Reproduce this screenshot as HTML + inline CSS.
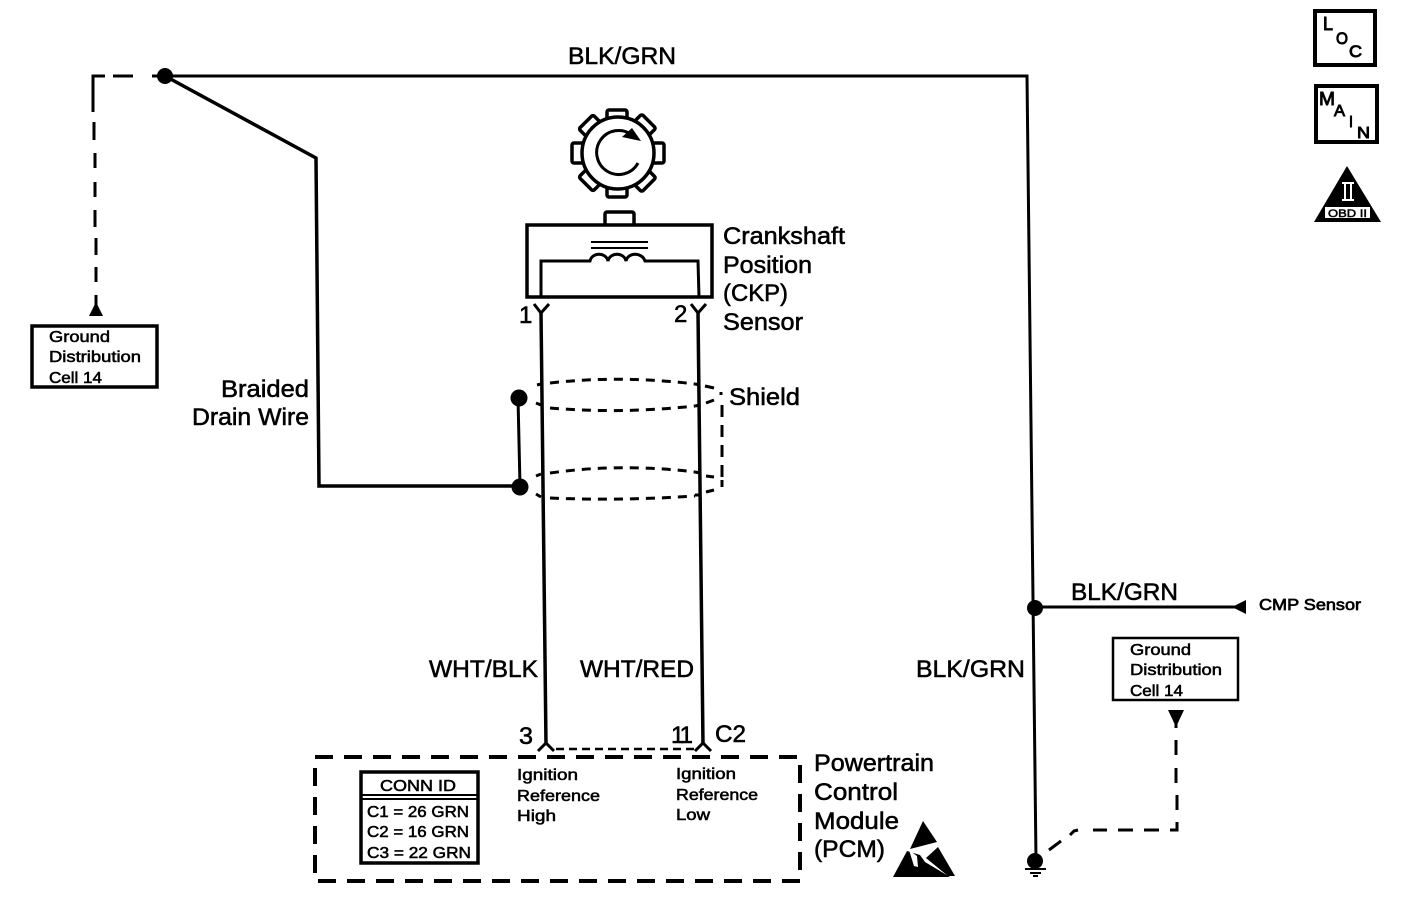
<!DOCTYPE html>
<html>
<head>
<meta charset="utf-8">
<style>
html,body{margin:0;padding:0;background:#fff;}
svg{display:block;}
text{font-family:"Liberation Sans",Arial,sans-serif;fill:#000;stroke:#000;stroke-width:.55;}
.l{font-size:24px;}
.s{font-size:16px;}
.w{fill:none;stroke:#000;stroke-width:3;}
.t{fill:none;stroke:#000;stroke-width:3;}
.box{fill:#fff;stroke:#000;stroke-width:3.5;}
</style>
</head>
<body>
<svg width="1408" height="906" viewBox="0 0 1408 906" xmlns="http://www.w3.org/2000/svg">
<rect width="1408" height="906" fill="#fff"/>

<!-- main wires -->
<path class="w" d="M165,76 H1027 L1036,860"/>
<path class="w" style="stroke-width:3.5" d="M165,76 L316,158 L319,486 H520"/>
<path class="w" d="M518,398 L520,486"/>
<path class="w" style="stroke-width:3.5" d="M541,312 L546,745"/>
<path class="w" style="stroke-width:3.5" d="M698,312 L703,745"/>
<path class="w" d="M1035,607 H1240"/>
<circle cx="165" cy="76" r="8"/>
<circle cx="519" cy="398" r="8.5"/>
<circle cx="520" cy="487" r="8.5"/>
<circle cx="1035" cy="608" r="8"/>
<circle cx="1035" cy="861" r="8"/>
<path d="M1246,600 V614 L1232,607 Z"/>
<!-- ground -->
<path class="w" style="stroke-width:2" d="M1025,869 H1046 M1030,873 H1041 M1033,876 H1038"/>

<!-- dashed connections -->
<path class="t" d="M93,112 V76 H105 M113,76 H133 M152,76 H165"/>
<path class="t" d="M94,122 L94,140 M95,153 L95,168 M95,182 L95,197 M95,210 L95,227 M96,238 L96,255 M96,267 L96,282 M96,295 L96,307"/>
<path d="M96,302 L103,316 H89 Z"/>
<path class="t" d="M1049,850 L1061,841 M1070,835 L1074,831 L1078,830 M1093,830 H1107 M1118,830 H1133 M1144,830 H1159 M1170,830 H1177 V822"/>
<path class="t" d="M1176,718 V728 M1176,740 V755 M1176,768 V783 M1177,795 V810"/>
<path d="M1168,710 H1184 L1176,727 Z"/>

<!-- Ground boxes -->
<rect class="box" x="32" y="326" width="125" height="61"/>
<text class="s" x="49" y="342" textLength="61" lengthAdjust="spacingAndGlyphs">Ground</text>
<text class="s" x="49" y="362" textLength="92" lengthAdjust="spacingAndGlyphs">Distribution</text>
<text class="s" x="49" y="383" textLength="53" lengthAdjust="spacingAndGlyphs">Cell 14</text>
<rect class="box" style="stroke-width:2.5" x="1113" y="638" width="125" height="62"/>
<text class="s" x="1130" y="655" textLength="61" lengthAdjust="spacingAndGlyphs">Ground</text>
<text class="s" x="1130" y="675" textLength="92" lengthAdjust="spacingAndGlyphs">Distribution</text>
<text class="s" x="1130" y="696" textLength="53" lengthAdjust="spacingAndGlyphs">Cell 14</text>

<!-- gear -->
<g fill="#fff" stroke="#000" stroke-width="3.5">
<rect x="607" y="110" width="20" height="14" rx="2" transform="rotate(0 617 153)"/>
<rect x="607" y="108" width="20" height="14" rx="2" transform="rotate(45 617 153)"/>
<rect x="607" y="106" width="20" height="14" rx="2" transform="rotate(90 617 153)"/>
<rect x="607" y="108" width="20" height="14" rx="2" transform="rotate(135 617 153)"/>
<rect x="607" y="109" width="20" height="14" rx="2" transform="rotate(180 617 153)"/>
<rect x="607" y="109" width="20" height="14" rx="2" transform="rotate(225 617 153)"/>
<rect x="607" y="108" width="20" height="14" rx="2" transform="rotate(270 617 153)"/>
<rect x="607" y="109" width="20" height="14" rx="2" transform="rotate(315 617 153)"/>
<circle cx="618" cy="153" r="36"/>
</g>
<path class="w" d="M638,163 A22,22 0 1 1 632,135"/>
<path d="M622,137 L632,128 L641,141 Z"/>

<!-- sensor -->
<rect class="box" x="605" y="212" width="29" height="14" rx="2"/>
<rect class="box" x="527" y="225" width="185" height="72"/>
<path class="w" style="stroke-width:2" d="M591,242 H648 M591,248 H648"/>
<path class="w" d="M541,297 V261 H590 C592,252 606,252 608,261 C610,252 624,252 626,261 C628,252 642,252 645,261 H698 L699,297"/>

<!-- Y connectors -->
<path class="w" d="M534,304 L541,313 L549,304"/>
<path class="w" d="M691,304 L698,313 L706,304"/>
<path class="w" d="M538,751 L546,743 L554,751"/>
<path class="w" d="M695,751 L703,743 L711,751"/>
<path class="w" style="stroke-dasharray:8 5;stroke-width:2.5" d="M556,749 H694"/>

<!-- shield -->
<g fill="none" stroke="#000" stroke-width="3" stroke-dasharray="9 7">
<path d="M550,383 Q620,375 695,384"/>
<path d="M550,408 Q620,414 695,406"/>
<path d="M550,473 Q620,463 695,472"/>
<path d="M550,498 Q620,501 695,496"/>
</g>
<path class="t" d="M537,385 L541,384 M536,403 L541,405 M536,476 L541,474 M536,494 L541,497"/>
<path class="t" d="M695,384 L700,385 M705,386 L714,388 M706,403 L714,400 M695,406 L700,405 M695,472 L700,473 M706,476 L714,477 M706,492 L714,490 M695,495 L700,495"/>
<path class="t" style="stroke-width:3" d="M721,392 V395 M722,405 V417 M722,425 V437 M722,445 V457 M722,465 V477 M722,480 V487"/>

<!-- PCM -->
<path class="t" style="stroke-width:4;stroke-dasharray:18 11" d="M315,757 H800 V881 H315 Z"/>
<rect class="box" x="361" y="772" width="117" height="91"/>
<path class="w" style="stroke-width:2" d="M361,795 H478 M361,799 H478"/>
<text class="s" x="380" y="791" textLength="76" lengthAdjust="spacingAndGlyphs">CONN ID</text>
<text class="s" x="367" y="817" textLength="102" lengthAdjust="spacingAndGlyphs">C1 = 26 GRN</text>
<text class="s" x="367" y="837" textLength="102" lengthAdjust="spacingAndGlyphs">C2 = 16 GRN</text>
<text class="s" x="367" y="858" textLength="104" lengthAdjust="spacingAndGlyphs">C3 = 22 GRN</text>

<text class="s" x="517" y="780" textLength="61" lengthAdjust="spacingAndGlyphs">Ignition</text>
<text class="s" x="517" y="801" textLength="83" lengthAdjust="spacingAndGlyphs">Reference</text>
<text class="s" x="517" y="821" textLength="39" lengthAdjust="spacingAndGlyphs">High</text>
<text class="s" x="676" y="779" textLength="60" lengthAdjust="spacingAndGlyphs">Ignition</text>
<text class="s" x="676" y="800" textLength="82" lengthAdjust="spacingAndGlyphs">Reference</text>
<text class="s" x="676" y="820" textLength="34" lengthAdjust="spacingAndGlyphs">Low</text>

<!-- ESD -->
<path d="M923,821 L937,842 L910,849 Z"/>
<path d="M938,847 L955,876 L948,876 L926,858 Z"/>
<path d="M907,851 L893,877 L950,877 L925,862 L920,855 Z"/>
<path d="M909,850 L914,866 L918,867 L917,856" fill="#fff"/>

<!-- Labels -->
<text class="l" x="568" y="64" textLength="108" lengthAdjust="spacingAndGlyphs">BLK/GRN</text>
<text class="l" x="723" y="244" textLength="122" lengthAdjust="spacingAndGlyphs">Crankshaft</text>
<text class="l" x="723" y="273" textLength="89" lengthAdjust="spacingAndGlyphs">Position</text>
<text class="l" x="723" y="301" textLength="65" lengthAdjust="spacingAndGlyphs">(CKP)</text>
<text class="l" x="723" y="330" textLength="80" lengthAdjust="spacingAndGlyphs">Sensor</text>
<text class="l" x="519" y="323">1</text>
<text class="l" x="674" y="322">2</text>
<text class="l" x="221" y="397" textLength="88" lengthAdjust="spacingAndGlyphs">Braided</text>
<text class="l" x="192" y="425" textLength="117" lengthAdjust="spacingAndGlyphs">Drain Wire</text>
<text class="l" x="729" y="405" textLength="71" lengthAdjust="spacingAndGlyphs">Shield</text>
<text class="l" x="429" y="677" textLength="109" lengthAdjust="spacingAndGlyphs">WHT/BLK</text>
<text class="l" x="580" y="677" textLength="114" lengthAdjust="spacingAndGlyphs">WHT/RED</text>
<text class="l" x="916" y="677" textLength="109" lengthAdjust="spacingAndGlyphs">BLK/GRN</text>
<text class="l" x="1071" y="600" textLength="107" lengthAdjust="spacingAndGlyphs">BLK/GRN</text>
<text class="s" x="1259" y="610" textLength="102" lengthAdjust="spacingAndGlyphs" style="stroke-width:.7">CMP Sensor</text>
<text class="l" x="519" y="744" textLength="14" lengthAdjust="spacingAndGlyphs">3</text>
<text class="l" x="671" y="743" textLength="22" lengthAdjust="spacing">11</text>
<text class="l" x="715" y="742" textLength="31" lengthAdjust="spacingAndGlyphs">C2</text>
<text class="l" x="814" y="771" textLength="120" lengthAdjust="spacingAndGlyphs">Powertrain</text>
<text class="l" x="814" y="800" textLength="84" lengthAdjust="spacingAndGlyphs">Control</text>
<text class="l" x="814" y="829" textLength="85" lengthAdjust="spacingAndGlyphs">Module</text>
<text class="l" x="814" y="857" textLength="71" lengthAdjust="spacingAndGlyphs">(PCM)</text>

<!-- LOC -->
<rect class="box" style="stroke-width:4" x="1315" y="11" width="60" height="54"/>
<text x="1323" y="30" font-size="18" textLength="10" lengthAdjust="spacingAndGlyphs" style="stroke-width:.9">L</text>
<text x="1336" y="44" font-size="17" textLength="12" lengthAdjust="spacingAndGlyphs" style="stroke-width:.9">O</text>
<text x="1349" y="57" font-size="17" textLength="13" lengthAdjust="spacingAndGlyphs" style="stroke-width:.9">C</text>
<!-- MAIN -->
<rect class="box" style="stroke-width:4" x="1316" y="86" width="61" height="56"/>
<text x="1319" y="105" font-size="18" textLength="16" lengthAdjust="spacingAndGlyphs" style="stroke-width:.9">M</text>
<text x="1334" y="116" font-size="16" textLength="11" lengthAdjust="spacingAndGlyphs" style="stroke-width:.9">A</text>
<text x="1349" y="127" font-size="16" textLength="4" lengthAdjust="spacingAndGlyphs" style="stroke-width:.9">I</text>
<text x="1357" y="138" font-size="16" textLength="13" lengthAdjust="spacingAndGlyphs" style="stroke-width:.9">N</text>
<!-- OBD triangle -->
<path d="M1347,166 L1381,222 H1314 Z"/>
<rect x="1342" y="182" width="12" height="2" fill="#fff"/>
<rect x="1342" y="199" width="12" height="2" fill="#fff"/>
<rect x="1344" y="184" width="2" height="15" fill="#fff"/>
<rect x="1350" y="184" width="2" height="15" fill="#fff"/>
<rect x="1325" y="207" width="45" height="11" fill="#fff"/>
<text x="1328" y="217" font-size="11" textLength="39" lengthAdjust="spacingAndGlyphs" style="stroke-width:.5">OBD II</text>
</svg>
</body>
</html>
